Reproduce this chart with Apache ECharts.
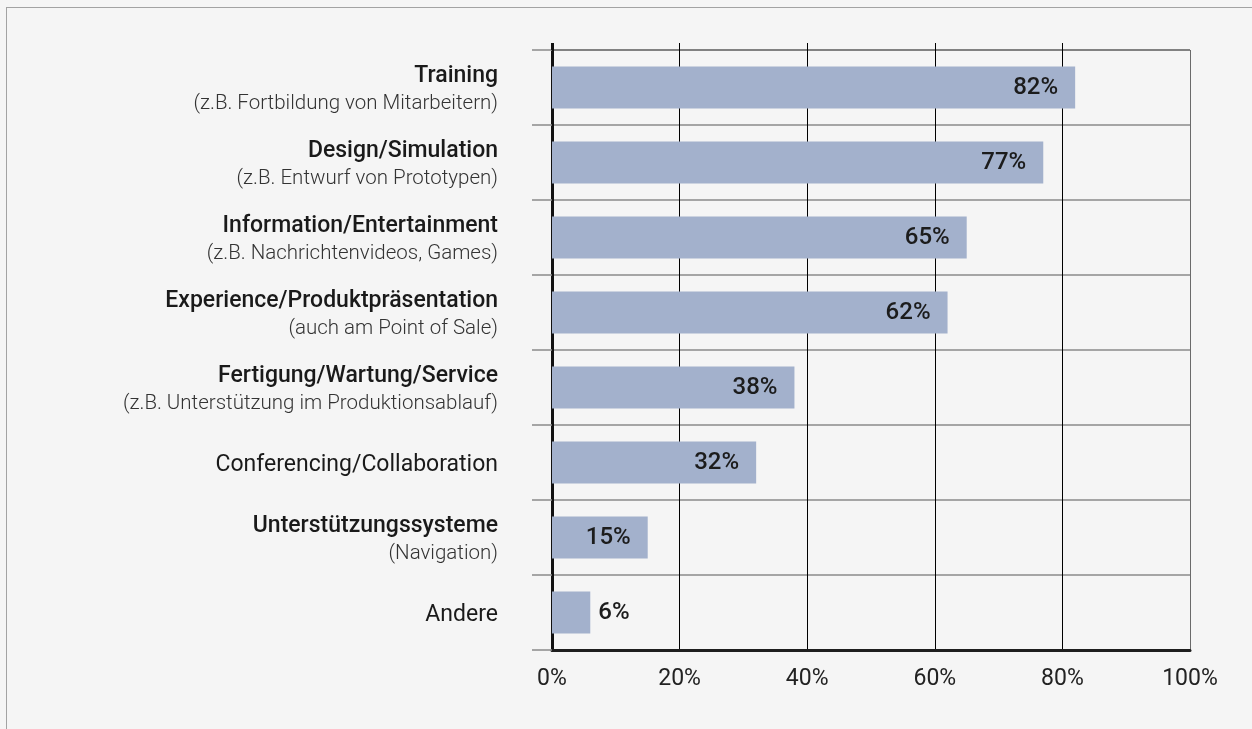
<!DOCTYPE html>
<html>
<head>
<meta charset="utf-8">
<script src="https://cdn.jsdelivr.net/npm/echarts@6/dist/echarts.min.js"></script>
<style>
  html, body { margin: 0; padding: 0; background: #f5f5f5; width: 1252px; height: 729px; overflow: hidden; }
  #frame { position: absolute; left: 6px; top: 7px; width: 1400px; height: 800px;
           border-top: 1px solid #a3a3a3; border-left: 1px solid #a3a3a3; }
  #chart { position: absolute; left: 0; top: 0; width: 1252px; height: 729px; }
</style>
</head>
<body>
<div id="frame"></div>
<div id="chart"></div>
<script>
// Anwendungsbereiche, Anteil der Nennungen in Prozent
const categories = [
  'Training',
  'Design/Simulation',
  'Information/Entertainment',
  'Experience/Produktpräsentation',
  'Fertigung/Wartung/Service',
  'Conferencing/Collaboration',
  'Unterstützungssysteme',
  'Andere'
];
const subtitles = [
  '(z.B. Fortbildung von Mitarbeitern)',
  '(z.B. Entwurf von Prototypen)',
  '(z.B. Nachrichtenvideos, Games)',
  '(auch am Point of Sale)',
  '(z.B. Unterstützung im Produktionsablauf)',
  '',
  '(Navigation)',
  ''
];
const values = [82, 77, 65, 62, 38, 32, 15, 6];

const FONT = 'Roboto';

const chart = echarts.init(document.getElementById('chart'), null, { renderer: 'canvas' });

// short bars carry their label outside, all others inside at the right end
const barData = values.map(v => ({
  value: v,
  label: v < 10
    ? { position: 'right', distance: 8 }
    : { position: 'insideRight', distance: 17 }
}));

// row separators: the top edge of the plot is a little darker
const rowLineColors = categories.map(() => '#8a8a8a');
rowLineColors.unshift('#5a5a5a');

chart.setOption({
  backgroundColor: 'transparent',
  animation: false,
  grid: { left: 552, right: 62, top: 50, bottom: 79, containLabel: false },
  xAxis: [
    {
      type: 'value', min: 0, max: 100, interval: 20,
      axisLine: { show: true, lineStyle: { color: '#1e1e1e', width: 3 } },
      axisTick: { show: false },
      axisLabel: {
        formatter: '{value}%', color: '#222', fontFamily: FONT, fontSize: 23, margin: 18
      },
      splitLine: { show: true, lineStyle: { color: ['#000', '#000', '#000', '#000', '#000', '#6a6a6a'], width: 1 } }
    },
    {
      // short upward extensions of the grid lines above the plot
      type: 'value', min: 0, max: 100, position: 'top',
      axisLine: { show: false }, axisLabel: { show: false }, splitLine: { show: false },
      axisTick: { show: true, customValues: [20, 40, 60, 80], length: 7, lineStyle: { color: '#000', width: 1 } }
    },
    {
      type: 'value', min: 0, max: 100, position: 'top',
      axisLine: { show: false }, axisLabel: { show: false }, splitLine: { show: false },
      axisTick: { show: true, customValues: [0], length: 7, lineStyle: { color: '#111', width: 3 } }
    }
  ],
  yAxis: {
    type: 'category', data: categories, inverse: true,
    axisLine: { show: true, lineStyle: { color: '#111', width: 3 } },
    axisTick: { show: true, length: 20, lineStyle: { color: '#8a8a8a', width: 1.5 } },
    splitLine: { show: true, lineStyle: { color: rowLineColors, width: 1.5 } },
    axisLabel: {
      margin: 54,
      align: 'right',
      padding: [5, 0, 0, 0],
      formatter: (name, idx) => {
        const sub = subtitles[idx];
        return sub ? '{t|' + name + '}\n{s|' + sub + '}' : '{p|' + name + '}';
      },
      rich: {
        t: { fontFamily: FONT, fontSize: 23, fontWeight: 500, color: '#1a1a1a', lineHeight: 27, align: 'right' },
        s: { fontFamily: FONT, fontSize: 20.5, fontWeight: 300, color: '#333', lineHeight: 27, align: 'right' },
        p: { fontFamily: FONT, fontSize: 23, fontWeight: 400, color: '#1a1a1a', lineHeight: 27, align: 'right' }
      }
    }
  },
  series: [{
    type: 'bar',
    data: barData,
    barWidth: 42,
    itemStyle: { color: '#a3b1cc' },
    label: {
      show: true, formatter: '{c}%',
      fontFamily: FONT, fontSize: 24, fontWeight: 500, color: '#1c1c1c'
    }
  }]
});
</script>
</body>
</html>
